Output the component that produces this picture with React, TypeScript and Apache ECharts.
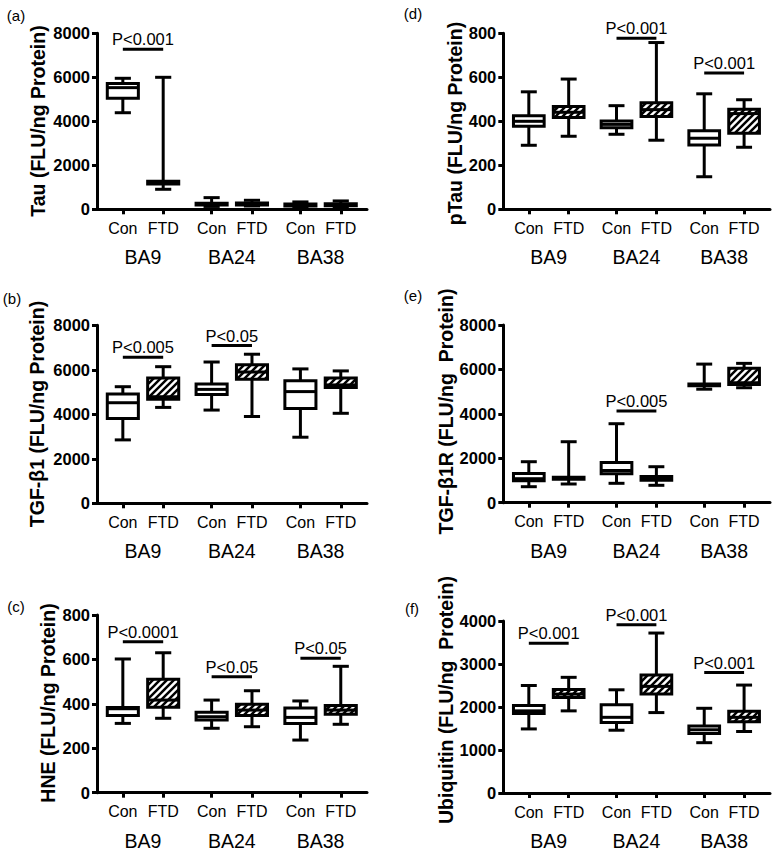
import React, { useEffect, useRef } from "react";
import * as echarts from "echarts";

// ---------- data ----------
const GROUPS = ["BA9", "BA24", "BA38"];
const CONDITIONS = ["Con", "FTD"];

// box stats per group: [min, Q1, median, Q3, max]
const TAU_CON = [[4390, 5050, 5530, 5720, 5955], [130, 190, 240, 280, 530], [110, 150, 190, 240, 335]];
const TAU_FTD = [[910, 1150, 1210, 1270, 6000], [150, 200, 250, 290, 410], [120, 160, 210, 250, 380]];
const TAU_P = [{ group: 0, y: 7280, label: "P<0.001" }];

const TGFB1_CON = [[2850, 3810, 4520, 4910, 5240], [4190, 4890, 5120, 5360, 6350], [2970, 4260, 5020, 5510, 6040]];
const TGFB1_FTD = [[4310, 4680, 4790, 5630, 6140], [3900, 5580, 5900, 6230, 6700], [4045, 5200, 5320, 5630, 5950]];
const TGFB1_P = [
  { group: 0, y: 6560, label: "P<0.005" },
  { group: 1, y: 7090, label: "P<0.05" },
];

const HNE_CON = [[312, 348, 378, 384, 602], [290, 327, 342, 362, 417], [237, 312, 339, 381, 413]];
const HNE_FTD = [[335, 385, 417, 511, 630], [297, 348, 372, 398, 459], [308, 353, 372, 393, 569]];
const HNE_P = [
  { group: 0, y: 680, label: "P<0.0001" },
  { group: 1, y: 522, label: "P<0.05" },
  { group: 2, y: 605, label: "P<0.05" },
];

const PTAU_CON = [[291, 378, 400, 425, 534], [341, 371, 386, 401, 471], [148, 292, 323, 357, 525]];
const PTAU_FTD = [[332, 417, 441, 467, 592], [314, 422, 453, 484, 758], [282, 346, 435, 455, 498]];
const PTAU_P = [
  { group: 1, y: 777, label: "P<0.001" },
  { group: 2, y: 619, label: "P<0.001" },
];

const TGFB1R_CON = [[720, 990, 1080, 1310, 1845], [873, 1300, 1450, 1810, 3556], [5110, 5270, 5300, 5340, 6240]];
const TGFB1R_FTD = [[842, 1060, 1100, 1150, 2745], [783, 1010, 1100, 1180, 1620], [5175, 5320, 5400, 6050, 6273]];
const TGFB1R_P = [{ group: 1, y: 4130, label: "P<0.005" }];

const UBI_CON = [[1490, 1850, 1910, 2035, 2500], [1460, 1640, 1760, 2050, 2400], [1170, 1385, 1470, 1560, 1970]];
const UBI_FTD = [[1910, 2220, 2300, 2405, 2690], [1870, 2305, 2480, 2745, 3720], [1430, 1655, 1760, 1900, 2510]];
const UBI_P = [
  { group: 0, y: 3480, label: "P<0.001" },
  { group: 1, y: 3910, label: "P<0.001" },
  { group: 2, y: 2800, label: "P<0.001" },
];

const PANELS = [
  { key: "a", letter: "(a)", title: "Tau (FLU/ng Protein)", con: TAU_CON, ftd: TAU_FTD, max: 8000, interval: 2000, p: TAU_P },
  { key: "b", letter: "(b)", title: "TGF-\u03b21 (FLU/ng Protein)", con: TGFB1_CON, ftd: TGFB1_FTD, max: 8000, interval: 2000, p: TGFB1_P },
  { key: "c", letter: "(c)", title: "HNE (FLU/ng Protein)", con: HNE_CON, ftd: HNE_FTD, max: 800, interval: 200, p: HNE_P },
  { key: "d", letter: "(d)", title: "pTau (FLU/ng Protein)", con: PTAU_CON, ftd: PTAU_FTD, max: 800, interval: 200, p: PTAU_P },
  { key: "e", letter: "(e)", title: "TGF-\u03b21R (FLU/ng  Protein)", con: TGFB1R_CON, ftd: TGFB1R_FTD, max: 8000, interval: 2000, p: TGFB1R_P },
  { key: "f", letter: "(f)", title: "Ubiquitin (FLU/ng  Protein)", con: UBI_CON, ftd: UBI_FTD, max: 4000, interval: 1000, p: UBI_P },
];

// ---------- layout / style ----------
const LAYOUT: Record<string, any> = {
  a: { left: 97, top: 33.3, width: 270, height: 176, tx: 38.3, ty: 121, lx: 16, ly: 15 },
  b: { left: 97, top: 325.3, width: 270, height: 178, tx: 37.3, ty: 414, lx: 12, ly: 298 },
  c: { left: 97, top: 615, width: 270, height: 177.7, tx: 48.3, ty: 703, lx: 16, ly: 606 },
  d: { left: 503.3, top: 33.3, width: 266.7, height: 176, tx: 455, ty: 123.5, lx: 413, ly: 13 },
  e: { left: 503.3, top: 325, width: 266.7, height: 177.7, tx: 446, ty: 411.5, lx: 413, ly: 295 },
  f: { left: 503.3, top: 621, width: 266.7, height: 176.7, tx: 446, ty: 700, lx: 412, ly: 608 },
};

const FONT = "'Liberation Sans', Arial, Helvetica, sans-serif";
const GROUP_STEP = 2.2;
const X_MIN = -0.64;
const X_MAX = 6.05;
const BOX_W = 0.77;
const CAP_W = 0.4;
const LW = 3;
const HATCH_SPACING = 7;
const HATCH_LW = 2.5;
const P_TEXT_OFFSET = 10;

const pos = (g: number, c: number) => g * GROUP_STEP + c;
const TICK_POS: number[] = [];
const TICK_LABELS: string[] = [];
GROUPS.forEach((_, g) =>
  CONDITIONS.forEach((cond, c) => {
    TICK_POS.push(pos(g, c));
    TICK_LABELS.push(cond);
  })
);
const GROUP_POS = GROUPS.map((_, g) => pos(g, 0.5));

const nearestLabel = (v: number, ps: number[], labels: string[]) => {
  let best = 0;
  ps.forEach((p, i) => {
    if (Math.abs(p - v) < Math.abs(ps[best] - v)) best = i;
  });
  return Math.abs(ps[best] - v) < 0.05 ? labels[best] : "";
};

function renderBox(params: any, api: any) {
  const x = api.value(0);
  const v = [1, 2, 3, 4, 5].map((d) => api.value(d));
  const hatch = api.value(6) === 1;
  const yOf = (val: number) => api.coord([x, val])[1];
  const cx = api.coord([x, v[2]])[0];
  const yMin = yOf(v[0]);
  const yQ1 = yOf(v[1]);
  const yMed = yOf(v[2]);
  const yQ3 = yOf(v[3]);
  const yMax = yOf(v[4]);
  const bw = api.size([BOX_W, 0])[0];
  const cw = api.size([CAP_W, 0])[0];
  const ls = { stroke: "#000", lineWidth: LW, fill: null };
  const children: any[] = [
    { type: "line", shape: { x1: cx, y1: yMax, x2: cx, y2: yQ3 }, style: ls },
    { type: "line", shape: { x1: cx, y1: yQ1, x2: cx, y2: yMin }, style: ls },
    { type: "line", shape: { x1: cx - cw / 2, y1: yMax, x2: cx + cw / 2, y2: yMax }, style: ls },
    { type: "line", shape: { x1: cx - cw / 2, y1: yMin, x2: cx + cw / 2, y2: yMin }, style: ls },
    { type: "rect", shape: { x: cx - bw / 2, y: yQ3, width: bw, height: yQ1 - yQ3 }, style: { fill: "#fff", stroke: null } },
  ];
  if (hatch) {
    const x0 = cx - bw / 2;
    const x1 = cx + bw / 2;
    const y0 = yQ3;
    const y1 = yQ1;
    const s = HATCH_SPACING;
    for (let c = Math.ceil((x0 + y0) / s) * s; c <= x1 + y1; c += s) {
      const xa = Math.max(x0, c - y1);
      const xb = Math.min(x1, c - y0);
      if (xb > xa) {
        children.push({
          type: "line",
          shape: { x1: xa, y1: c - xa, x2: xb, y2: c - xb },
          style: { stroke: "#000", lineWidth: HATCH_LW },
        });
      }
    }
  }
  children.push({ type: "line", shape: { x1: cx - bw / 2, y1: yMed, x2: cx + bw / 2, y2: yMed }, style: ls });
  children.push({
    type: "rect",
    shape: { x: cx - bw / 2, y: yQ3, width: bw, height: yQ1 - yQ3 },
    style: { fill: null, stroke: "#000", lineWidth: LW },
  });
  return { type: "group", children };
}

function makeBracketRenderer(labels: string[]) {
  return (params: any, api: any) => {
    const a = api.coord([api.value(0), api.value(2)]);
    const b = api.coord([api.value(1), api.value(2)]);
    return {
      type: "group",
      children: [
        { type: "line", shape: { x1: a[0], y1: a[1], x2: b[0], y2: b[1] }, style: { stroke: "#000", lineWidth: LW } },
        {
          type: "text",
          x: (a[0] + b[0]) / 2,
          y: a[1] - P_TEXT_OFFSET,
          style: {
            text: labels[params.dataIndex],
            align: "center",
            verticalAlign: "middle",
            fontSize: 16.5,
            fontFamily: FONT,
            fill: "#000",
          },
        },
      ],
    };
  };
}

function buildOption() {
  const grid: any[] = [];
  const xAxis: any[] = [];
  const yAxis: any[] = [];
  const series: any[] = [];
  const graphic: any[] = [];
  const axisLineStyle = { color: "#000", width: LW };

  PANELS.forEach((p, i) => {
    const L = LAYOUT[p.key];
    grid.push({ left: L.left, top: L.top, width: L.width, height: L.height, containLabel: false });
    xAxis.push({
      gridIndex: i,
      type: "value",
      min: X_MIN,
      max: X_MAX,
      axisLine: { show: true, onZero: false, lineStyle: axisLineStyle },
      axisTick: { show: true, customValues: TICK_POS, length: 5, lineStyle: axisLineStyle },
      axisLabel: {
        show: true,
        customValues: TICK_POS,
        formatter: (v: number) => nearestLabel(v, TICK_POS, TICK_LABELS),
        fontSize: 16,
        fontFamily: FONT,
        color: "#000",
        margin: 11,
      },
      splitLine: { show: false },
    });
    xAxis.push({
      gridIndex: i,
      type: "value",
      min: X_MIN,
      max: X_MAX,
      position: "bottom",
      axisLine: { show: false, onZero: false },
      axisTick: { show: false },
      axisLabel: {
        show: true,
        customValues: GROUP_POS,
        formatter: (v: number) => nearestLabel(v, GROUP_POS, GROUPS),
        fontSize: 19.5,
        fontFamily: FONT,
        color: "#000",
        margin: 38,
      },
      splitLine: { show: false },
    });
    yAxis.push({
      gridIndex: i,
      type: "value",
      min: 0,
      max: p.max,
      interval: p.interval,
      axisLine: { show: true, onZero: false, lineStyle: axisLineStyle },
      axisTick: { show: true, length: 5, lineStyle: axisLineStyle },
      axisLabel: {
        fontSize: 16.5,
        fontWeight: "bold",
        fontFamily: FONT,
        color: "#000",
        margin: 7,
        formatter: (v: number) => String(v),
      },
      splitLine: { show: false },
    });

    const boxData: number[][] = [];
    GROUPS.forEach((_, g) => {
      boxData.push([pos(g, 0), ...p.con[g], 0]);
      boxData.push([pos(g, 1), ...p.ftd[g], 1]);
    });
    series.push({
      type: "custom",
      xAxisIndex: 2 * i,
      yAxisIndex: i,
      clip: false,
      silent: true,
      renderItem: renderBox,
      data: boxData,
    });
    series.push({
      type: "custom",
      xAxisIndex: 2 * i,
      yAxisIndex: i,
      clip: false,
      silent: true,
      renderItem: makeBracketRenderer(p.p.map((b) => b.label)),
      data: p.p.map((b) => [pos(b.group, 0), pos(b.group, 1), b.y]),
    });

    graphic.push({
      type: "text",
      x: L.tx,
      y: L.ty,
      rotation: Math.PI / 2,
      style: {
        text: p.title,
        align: "center",
        verticalAlign: "middle",
        fontSize: 19.5,
        fontWeight: "bold",
        fontFamily: FONT,
        fill: "#000",
      },
    });
    graphic.push({
      type: "text",
      x: L.lx,
      y: L.ly,
      style: { text: p.letter, align: "center", verticalAlign: "middle", fontSize: 15, fontFamily: FONT, fill: "#000" },
    });
  });

  return {
    animation: false,
    backgroundColor: "#fff",
    textStyle: { fontFamily: FONT },
    grid,
    xAxis,
    yAxis,
    series,
    graphic,
  };
}

export default function App() {
  const ref = useRef<HTMLDivElement>(null);
  useEffect(() => {
    if (!ref.current) return;
    const chart = echarts.init(ref.current, undefined, { renderer: "svg" });
    chart.setOption(buildOption() as any);
    return () => chart.dispose();
  }, []);
  return (
    <div
      ref={ref}
      style={{ position: "fixed", left: 0, top: 0, width: 774, height: 851, background: "#fff" }}
    />
  );
}
